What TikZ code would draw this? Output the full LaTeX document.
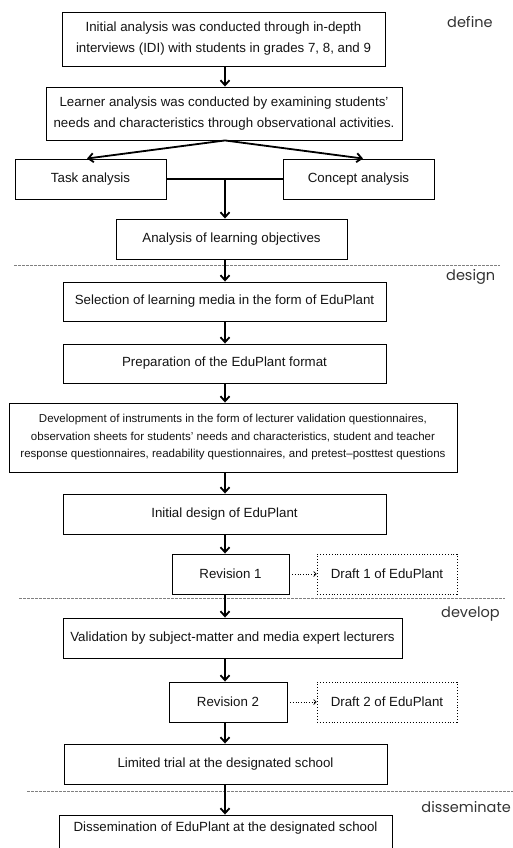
\documentclass[tikz,border=0pt]{standalone}
\usepackage{fontspec}
\setmainfont{Liberation Sans}
\newfontfamily\phasefont{Poppins}
\usetikzlibrary{arrows.meta,calc}
\begin{document}
\begin{tikzpicture}[x=1pt,y=-1pt,
  box/.style={draw=black,line width=0.9pt,rectangle,inner sep=0pt,align=center,text=black!92,
    font=\fontsize{13.3}{21}\selectfont},
  draftbox/.style={box,dotted,line width=0.8pt},
  arr/.style={line width=1.8pt,-{Straight Barb[length=5pt,width=9pt]}},
  darr/.style={line width=0.7pt,dotted,-{Straight Barb[length=2.5pt,width=5pt]}},
  sep/.style={draw=gray,line width=0.6pt,dash pattern=on 3pt off 1pt},
  phase/.style={font=\phasefont\fontsize{14.5}{16}\selectfont,text=black!80,inner sep=0pt,anchor=west},
]
\useasboundingbox (0,0) rectangle (513,848);
\fill[white] (0,0) rectangle (513,848);
\clip (0,0) rectangle (513,848);
\coordinate (spine) at (225,0);

% define
\node[box,minimum width=323pt,minimum height=54pt] (b1) at (223.5,39)
  {Initial analysis was conducted through in-depth\\interviews (IDI) with students in grades 7, 8, and 9};
\node[box,minimum width=356pt,minimum height=53pt] (b2) at (224,113.5)
  {Learner analysis was conducted by examining students'\\needs and characteristics through observational activities.};
\node[box,minimum width=151pt,minimum height=40pt] (task) at (90.5,179) {Task analysis};
\node[box,minimum width=151pt,minimum height=40pt] (concept) at (358.5,179) {Concept analysis};
\node[box,minimum width=231pt,minimum height=40pt] (obj) at (231.5,239) {Analysis of learning objectives};

% design
\node[box,minimum width=323pt,minimum height=39pt] (sel) at (224.5,301.5) {Selection of learning media in the form of EduPlant};
\node[box,minimum width=323pt,minimum height=39pt] (prep) at (224.5,363.5) {Preparation of the EduPlant format};
\node[box,minimum width=448pt,minimum height=69pt,font=\fontsize{11.5}{17.5}\selectfont] (dev) at (233,437.5)
  {Development of instruments in the form of lecturer validation questionnaires,\\
   observation sheets for students' needs and characteristics, student and teacher\\
   response questionnaires, readability questionnaires, and pretest--posttest questions};
\node[box,minimum width=323pt,minimum height=40pt] (init) at (224.5,514) {Initial design of EduPlant};
\node[box,minimum width=117pt,minimum height=40pt] (rev1) at (230.5,574) {Revision 1};
\node[draftbox,minimum width=140pt,minimum height=40pt] (draft1) at (387,574) {Draft 1 of EduPlant};

% develop
\node[box,minimum width=339pt,minimum height=40pt] (val) at (232.5,638) {Validation by subject-matter and media expert lecturers};
\node[box,minimum width=118pt,minimum height=40pt] (rev2) at (228,702) {Revision 2};
\node[draftbox,minimum width=140pt,minimum height=40pt] (draft2) at (387,702) {Draft 2 of EduPlant};
\node[box,minimum width=323pt,minimum height=40pt] (lim) at (225.5,764) {Limited trial at the designated school};

% disseminate
\node[box,minimum width=333pt,anchor=base,text height=9.5pt,text depth=30pt,inner ysep=6.5pt] (dis) at (225.5,831)
  {Dissemination of EduPlant at the designated school};

% separators
\draw[sep] (14,265) -- (500,265);
\draw[sep] (19,598) -- (505,598);
\draw[sep] (27,791) -- (513,791);

% phase labels
\node[phase] (ph1) at (447,22) {define};
\node[phase] (ph2) at (446,277) {design};
\node[phase] (ph3) at (441,614) {develop};
\node[phase,anchor=east] (ph4) at (511,807) {disseminate};

% connectors
\draw[arr] (b1.south -| spine) -- (b2.north -| spine);
\draw[arr] (b2.south -| spine) -- ([xshift=-3.5pt]task.north);
\draw[arr] (b2.south -| spine) -- ([xshift=4.5pt]concept.north);
\draw[line width=1.8pt] (task.east) -- (concept.west);
\draw[arr] (task.east -| spine) -- (obj.north -| spine);
\draw[arr] (obj.south -| spine) -- (sel.north -| spine);
\draw[arr] (sel.south -| spine) -- (prep.north -| spine);
\draw[arr] (prep.south -| spine) -- (dev.north -| spine);
\draw[arr] (dev.south -| spine) -- (init.north -| spine);
\draw[arr] (init.south -| spine) -- (rev1.north -| spine);
\draw[darr] (rev1.east) -- (draft1.west);
\draw[arr] (rev1.south -| spine) -- (val.north -| spine);
\draw[arr] (val.south -| spine) -- (rev2.north -| spine);
\draw[darr] (rev2.east) -- (draft2.west);
\draw[arr] (rev2.south -| spine) -- (lim.north -| spine);
\draw[arr] (lim.south -| spine) -- (dis.north -| spine);
\end{tikzpicture}
\end{document}
